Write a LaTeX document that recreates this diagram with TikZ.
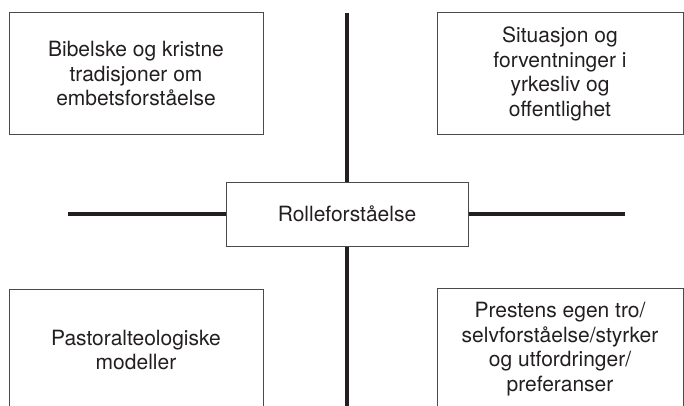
\documentclass[tikz,border=0pt]{standalone}
\usepackage{fontspec}
\setmainfont{TeX Gyre Heros}
\definecolor{ink}{HTML}{231F20}
\definecolor{boxgray}{HTML}{4A4A4A}
\begin{document}
\begin{tikzpicture}[x=1pt,y=-1pt,
  box/.style={draw=boxgray, line width=1pt, minimum width=#1, minimum height=122pt,
    inner sep=0pt, align=center, text=ink, font=\fontsize{21}{24.5}\selectfont},
  centerbox/.style={draw=boxgray, line width=1pt, minimum width=242pt, minimum height=64pt,
    inner sep=0pt, align=center, text=ink, font=\fontsize{21}{24.5}\selectfont},
  thick line/.style={draw=ink, line width=4.5pt}]
\useasboundingbox (0,0) rectangle (684,406);
\clip (0,0) rectangle (684,406);
\node[box=254pt] (tl) at (136,74) {Bibelske og kristne\\tradisjoner om\\embetsforståelse};
\node[box=246pt] (tr) at (560,74) {Situasjon og\\forventninger i\\yrkesliv og\\offentlighet};
\node[box=254pt] (bl) at (136,350) {Pastoralteologiske\\modeller};
\node[box=246pt] (br) at (560,349) {Prestens egen tro/\\selvforståelse/styrker\\og utfordringer/\\preferanser};
\node[centerbox] (c) at (347,214) {Rolleforståelse};
\coordinate (vtop) at (347,13);
\coordinate (vbot) at (347,420);
\coordinate (hleft) at (68,214);
\coordinate (hright) at (625,214);
\draw[thick line] (vtop) -- (c.north);
\draw[thick line] (c.south) -- (vbot);
\draw[thick line] (hleft) -- (c.west);
\draw[thick line] (c.east) -- (hright);
\end{tikzpicture}
\end{document}
